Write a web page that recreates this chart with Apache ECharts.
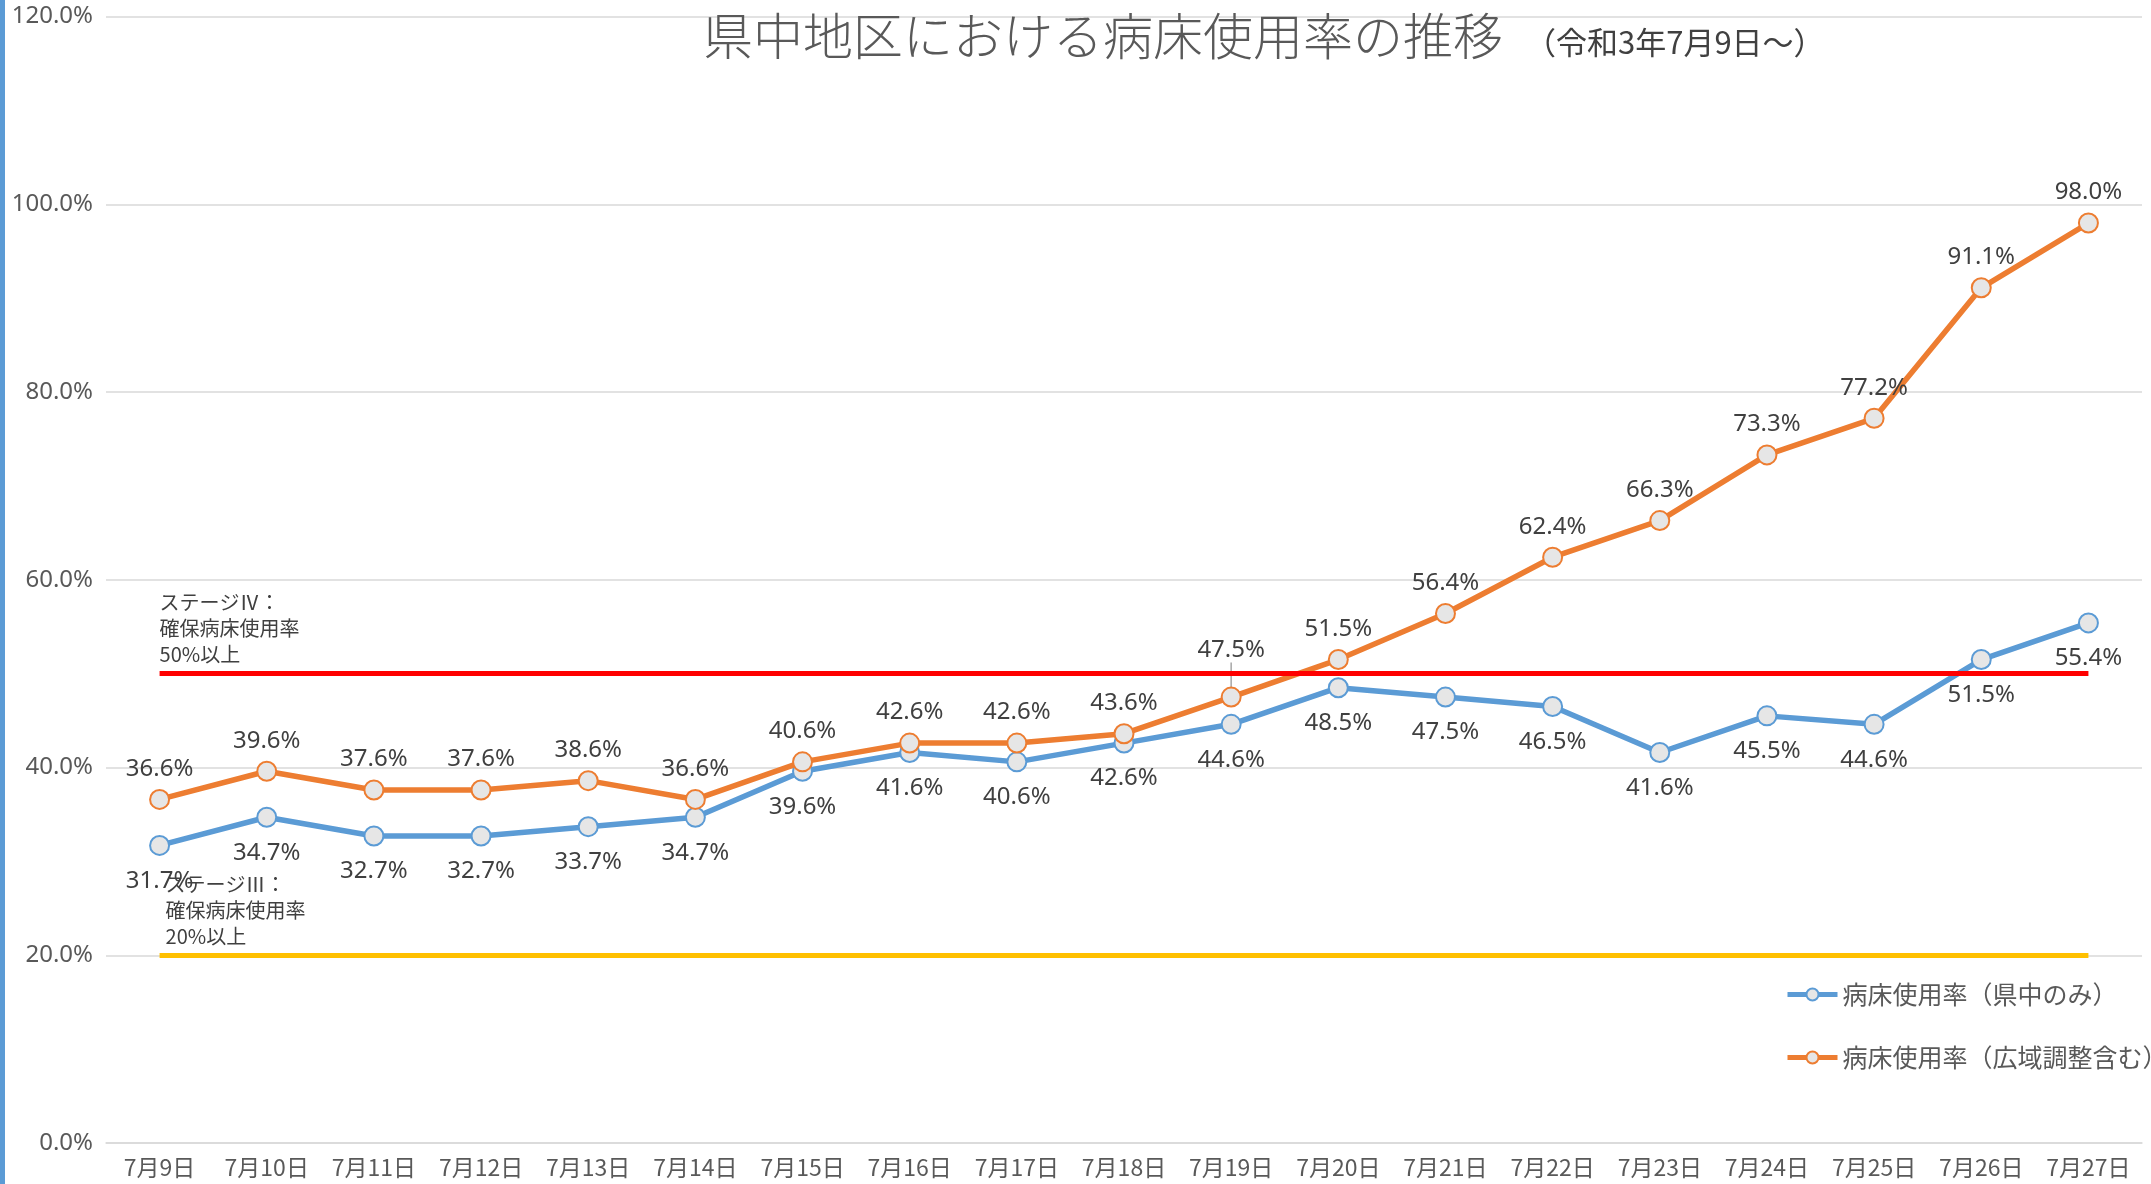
<!DOCTYPE html>
<html><head><meta charset="utf-8">
<script src="https://cdn.jsdelivr.net/npm/echarts@6/dist/echarts.min.js"></script>
<style>html,body{margin:0;padding:0;background:#fff}#c{width:2151px;height:1184px}</style>
</head><body><div id="c"></div>
<script>
const categories = ['7月9日','7月10日','7月11日','7月12日','7月13日','7月14日','7月15日','7月16日','7月17日','7月18日','7月19日','7月20日','7月21日','7月22日','7月23日','7月24日','7月25日','7月26日','7月27日'];
const kenchuOnly = [31.7,34.7,32.7,32.7,33.7,34.7,39.6,41.6,40.6,42.6,44.6,48.5,47.5,46.5,41.6,45.5,44.6,51.5,55.4];
const withRegional = [36.6,39.6,37.6,37.6,38.6,36.6,40.6,42.6,42.6,43.6,47.5,51.5,56.4,62.4,66.3,73.3,77.2,91.1,98.0];
const seriesNames = ['病床使用率（県中のみ）','病床使用率（広域調整含む）'];
const stage4 = 50, stage3 = 20;
const stage4Text = 'ステージⅣ：\n確保病床使用率\n50%以上';
const stage3Text = 'ステージⅢ：\n確保病床使用率\n20%以上';
const yTicks = {min:0, max:120, interval:20};
const leaderIndex = 10;

const FONT = '"Noto Sans CJK JP","Noto Sans",sans-serif';
const NUMFONT = '"Noto Sans",sans-serif';
const chart = echarts.init(document.getElementById('c'));
const lblFmt = p => p.value.toFixed(1) + '%';
const orangeData = withRegional.map((v,i) => i === leaderIndex
  ? {value:v, labelLine:{show:true, lineStyle:{color:'#a6a6a6', width:1.5}}}
  : v);
chart.setOption({
  animation:false,
  backgroundColor:'#fff',
  textStyle:{fontFamily:FONT},
  title:{
    text:'県中地区における病床使用率の推移',
    left:698, top:6,
    textStyle:{fontSize:50, fontWeight:300, color:'#595959', fontFamily:FONT}
  },
  graphic:[
    {type:'rect', left:0, top:0, shape:{width:5, height:1184}, style:{fill:'#5b9bd5'}},
    {type:'text', left:1525, top:27, style:{text:'（令和3年7月9日～）', fontSize:31, fill:'#404040', fontFamily:FONT}}
  ],
  legend:{
    orient:'vertical', left:1780, top:977, itemGap:38, itemWidth:50, itemHeight:15,
    lineStyle:{width:5},
    textStyle:{fontSize:25, color:'#595959', fontFamily:FONT},
    data:seriesNames
  },
  grid:{left:106, right:9, top:16.5, bottom:41, containLabel:false},
  xAxis:{
    type:'category', data:categories, boundaryGap:true,
    axisLine:{show:true, lineStyle:{color:'#d9d9d9', width:1.5}},
    axisTick:{show:false},
    axisLabel:{fontSize:23, color:'#595959', margin:13, fontFamily:FONT, interval:0}
  },
  yAxis:{
    type:'value', min:yTicks.min, max:yTicks.max, interval:yTicks.interval,
    axisLine:{show:false}, axisTick:{show:false},
    axisLabel:{fontSize:24, color:'#595959', margin:13, fontFamily:NUMFONT, formatter:v=>v.toFixed(1)+'%'},
    splitLine:{lineStyle:{color:'#d9d9d9', width:1.5}}
  },
  series:[
    {
      name:seriesNames[0], type:'line', data:kenchuOnly, z:3,
      symbol:'circle', symbolSize:19,
      lineStyle:{color:'#5b9bd5', width:5.5},
      itemStyle:{color:'#e6e6e6', borderColor:'#5b9bd5', borderWidth:2},
      label:{show:true, position:'bottom', distance:13, formatter:lblFmt, fontSize:24, color:'#404040', fontFamily:NUMFONT},
      markLine:{
        silent:true, symbol:'none',
        lineStyle:{color:'#ffc000', width:5, type:'solid'},
        label:{show:true, position:'insideStartTop', formatter:stage3Text, fontSize:20, lineHeight:26, color:'#404040', distance:[6,6], align:'left', fontFamily:FONT},
        data:[[{coord:[0,stage3]},{coord:[categories.length-1,stage3]}]]
      }
    },
    {
      name:seriesNames[1], type:'line', data:orangeData, z:4,
      symbol:'circle', symbolSize:19,
      lineStyle:{color:'#ed7d31', width:5.5},
      itemStyle:{color:'#e6e6e6', borderColor:'#ed7d31', borderWidth:2},
      label:{show:true, position:'top', distance:8, formatter:lblFmt, fontSize:24, color:'#404040', fontFamily:NUMFONT},
      labelLayout:function(p){ if(p.dataIndex===leaderIndex) return {dy:-16}; return {}; },
      labelLine:{show:false},
      markLine:{
        silent:true, symbol:'none',
        lineStyle:{color:'#ff0000', width:5, type:'solid'},
        label:{show:true, position:'insideStartTop', formatter:stage4Text, fontSize:20, lineHeight:26, color:'#404040', distance:[0,6], align:'left', fontFamily:FONT},
        data:[[{coord:[0,stage4]},{coord:[categories.length-1,stage4]}]]
      }
    }
  ]
});
</script></body></html>
